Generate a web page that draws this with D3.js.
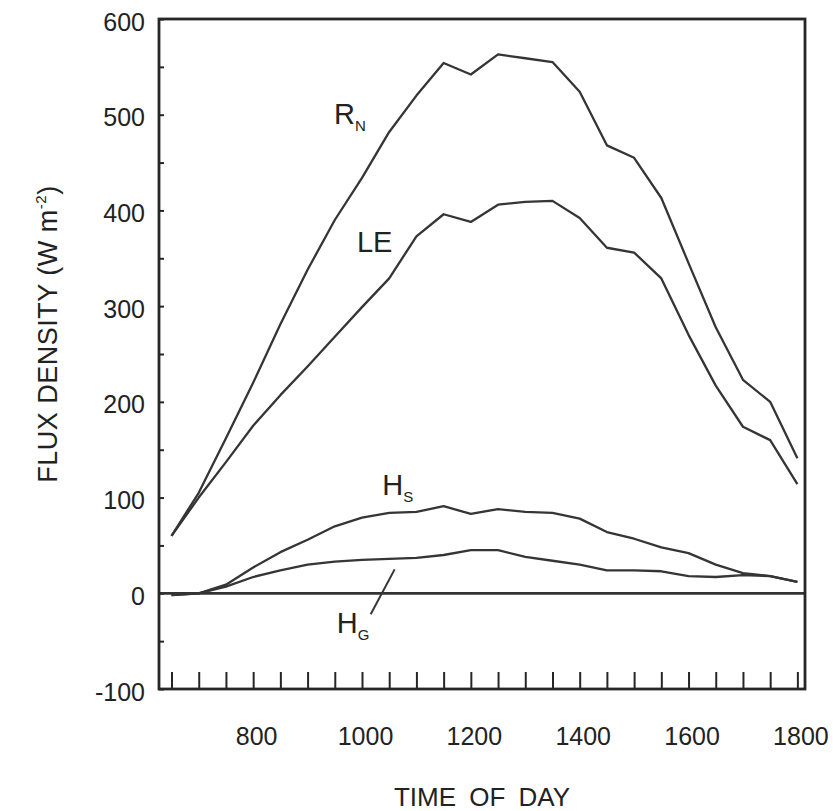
<!DOCTYPE html>
<html>
<head>
<meta charset="utf-8">
<script src="https://cdn.jsdelivr.net/npm/d3@7"></script>
<style>
  html, body { margin: 0; padding: 0; background: #fff; }
  svg { display: block; }
  text { font-family: "Liberation Sans", Arial, sans-serif; fill: #222; }
</style>
</head>
<body>
<svg id="chart" width="833" height="811"></svg>
<script>
// ---- data ----
const times = [650,700,750,800,850,900,950,1000,1050,1100,1150,1200,1250,1300,1350,1400,1450,1500,1550,1600,1650,1700,1750,1800];
const RN = [60,105,162,220,281,338,390,434,482,520,554,542,563,559,555,524,468,455,413,345,278,223,200,141];
const LE = [60,100,137,175,207,237,268,299,329,373,396,388,406,409,410,392,361,356,329,270,217,174,160,114];
const HS = [-2,0,9,27,43,56,70,79,84,85,91,83,88,85,84,78,64,57,48,42,30,21,18,12];
const HG = [-2,0,7,17,24,30,33,35,36,37,40,45,45,38,34,30,24,24,23,18,17,19,18,12];
const xTickValues = d3.range(650, 1801, 50);
const xLabelValues = [800,1000,1200,1400,1600,1800];
const yTickValues = d3.range(-100, 601, 50);
const yLabelValues = [-100,0,100,200,300,400,500,600];
const xTitle = "TIME OF DAY";
const yTitle = "FLUX DENSITY (W m";

// ---- layout ----
const svg = d3.select("#chart");
const x = d3.scaleLinear().domain([627, 1814]).range([159, 805]);
const y = d3.scaleLinear().domain([-100, 600]).range([689, 19]);
const ink = "#262626";
const plain = d => String(d);

// ticks (inward)
const gxT = svg.append("g").attr("transform", `translate(0,${y(-100)})`)
  .call(d3.axisBottom(x).tickValues(xTickValues).tickSize(-17).tickFormat(""));
gxT.select(".domain").remove();
gxT.selectAll("line").attr("stroke", ink).attr("stroke-width", 2);

const gyT = svg.append("g").attr("transform", `translate(${x.range()[0]},0)`)
  .call(d3.axisLeft(y).tickValues(yTickValues).tickSize(-5).tickFormat(""));
gyT.select(".domain").remove();
gyT.selectAll("line").attr("stroke", ink).attr("stroke-width", 2);

// tick labels
const gxL = svg.append("g").attr("transform", `translate(3,${y(-100)})`)
  .call(d3.axisBottom(x).tickValues(xLabelValues).tickSize(0).tickPadding(38).tickFormat(plain));
gxL.select(".domain").remove();
gxL.selectAll("text").attr("font-size", 25).attr("fill", "#222")
  .style("font-family", '"Liberation Sans", Arial, sans-serif');

const gyL = svg.append("g").attr("transform", `translate(${x.range()[0]},3)`)
  .call(d3.axisLeft(y).tickValues(yLabelValues).tickSize(0).tickPadding(14).tickFormat(plain));
gyL.select(".domain").remove();
gyL.selectAll("text").attr("font-size", 25).attr("fill", "#222")
  .style("font-family", '"Liberation Sans", Arial, sans-serif');

// zero line
svg.append("line")
  .attr("x1", x.range()[0]).attr("x2", x.range()[1])
  .attr("y1", y(0)).attr("y2", y(0))
  .attr("stroke", "#333").attr("stroke-width", 2.8);

// frame
svg.append("rect")
  .attr("x", x.range()[0]).attr("y", y.range()[1])
  .attr("width", x.range()[1] - x.range()[0])
  .attr("height", y.range()[0] - y.range()[1])
  .attr("fill", "none").attr("stroke", ink).attr("stroke-width", 2.8);

// series lines
const line = d3.line().x((d, i) => x(times[i])).y(d => y(d));
[RN, LE, HS, HG].forEach(s => {
  svg.append("path").datum(s).attr("d", line)
    .attr("fill", "none").attr("stroke", "#353535").attr("stroke-width", 2.3)
    .attr("stroke-linejoin", "round");
});

// series labels
function label(main, sub, tx, ty) {
  const t = svg.append("text").attr("x", tx).attr("y", ty)
    .attr("font-size", 29);
  t.append("tspan").text(main);
  if (sub) t.append("tspan").text(sub).attr("font-size", 15).attr("dy", 7);
}
label("R", "N", x(1000) - 28, y(490));
label("LE", null, x(1000) - 5, y(357));
label("H", "S", x(1050) - 7, y(103));
label("H", "G", x(950) + 2, y(-42));

// HG leader line
svg.append("line")
  .attr("x1", x(1060)).attr("y1", y(25))
  .attr("x2", x(1016)).attr("y2", y(-22))
  .attr("stroke", "#353535").attr("stroke-width", 2);

// axis titles
svg.append("text").attr("x", (x.range()[0] + x.range()[1]) / 2).attr("y", 806)
  .attr("text-anchor", "middle").attr("font-size", 26).attr("word-spacing", 6).text(xTitle);

const yt = svg.append("text")
  .attr("transform", `translate(57,${(y.range()[0] + y.range()[1]) / 2 - 20}) rotate(-90)`)
  .attr("text-anchor", "middle").attr("font-size", 27).attr("letter-spacing", 0.5);
yt.append("tspan").text(yTitle);
yt.append("tspan").text("-2").attr("font-size", 15).attr("dy", -11);
yt.append("tspan").text(")").attr("dy", 11);
</script>
</body>
</html>
